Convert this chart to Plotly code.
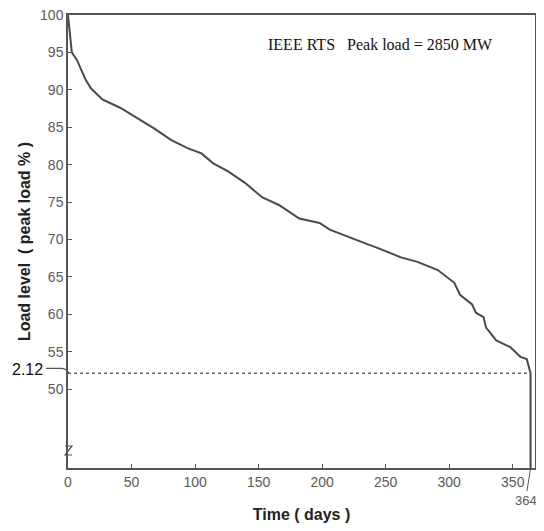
import plotly.graph_objects as go

# Load duration curve (day, % of peak load)
days = [0, 1, 3, 7, 14, 18, 27, 41, 54, 63, 68, 81, 94, 105, 114, 126, 139,
        153, 166, 182, 198, 206, 222, 235, 243, 262, 275, 291, 304, 308.5,
        318, 321, 327, 329, 337, 348, 356, 361, 364, 364]
load_pct = [100, 98, 95, 94, 91.3, 90.2, 88.7, 87.6, 86.3, 85.4, 84.8, 83.3,
            82.2, 81.5, 80.2, 79.1, 77.6, 75.6, 74.6, 72.8, 72.2, 71.3, 70.2,
            69.4, 68.9, 67.6, 67.0, 65.9, 64.2, 62.6, 61.3, 60.2, 59.6, 58.2,
            56.5, 55.6, 54.3, 54.0, 52.12, 0]

threshold = 52.12
threshold_days = [0, 364]
x_ticks = [0, 50, 100, 150, 200, 250, 300, 350]
y_ticks = [50, 55, 60, 65, 70, 75, 80, 85, 90, 95, 100]

AX = "#555555"
TICKFONT = dict(family="Arial, Liberation Sans, sans-serif", size=14, color="#5a5a5a")

fig = go.Figure()
fig.add_trace(go.Scatter(x=threshold_days, y=[threshold, threshold], mode="lines",
                         line=dict(color="#666666", width=1.5, dash="dot"),
                         hoverinfo="skip", showlegend=False))
fig.add_trace(go.Scatter(x=days, y=load_pct, mode="lines",
                         line=dict(color="#4a4a4a", width=2),
                         showlegend=False))

# the page body adds an 8px margin, so the figure is sized to fit inside it
fig.update_layout(
    width=528, height=515,
    margin=dict(l=60, r=1, t=7, b=55),
    plot_bgcolor="white", paper_bgcolor="white",
    xaxis=dict(range=[0, 367.5], tickvals=x_ticks, ticks="inside", ticklen=4,
               tickcolor=AX, showline=True, mirror=True, linecolor=AX, linewidth=1.5,
               showgrid=False, zeroline=False, tickfont=TICKFONT, automargin=False,
               ticklabeloverflow="allow",
               title=dict(text="<b>Time ( days )</b>", standoff=21,
                          font=dict(family="Arial, Liberation Sans, sans-serif", size=16, color="#222"))),
    yaxis=dict(range=[39.44, 100], tickvals=y_ticks, ticks="inside", ticklen=4,
               tickcolor=AX, showline=True, mirror=True, linecolor=AX, linewidth=1.5,
               showgrid=False, zeroline=False, tickfont=TICKFONT, automargin=False,
               ticklabeloverflow="allow",
               title=dict(text="<b>Load level  ( peak load % )</b>", standoff=5,
                          font=dict(family="Arial, Liberation Sans, sans-serif", size=16, color="#222"))),
    annotations=[
        dict(text="IEEE RTS\u00a0\u00a0 Peak load = 2850 MW", xref="paper", yref="paper",
             x=0.670, y=0.934, xanchor="center", yanchor="middle", showarrow=False,
             font=dict(family="Liberation Serif, Times New Roman, serif", size=16, color="#111")),
        dict(text="2.12", xref="paper", yref="y", x=-0.0867, y=52.6,
             xanchor="center", yanchor="middle", showarrow=False,
             font=dict(family="Arial, Liberation Sans, sans-serif", size=16, color="#111")),
        dict(text="364", xref="x", yref="paper", x=364, y=0, showarrow=True,
             arrowhead=0, arrowwidth=1, arrowcolor=AX, ax=-5, ay=32,
             font=dict(family="Arial, Liberation Sans, sans-serif", size=13, color="#5a5a5a")),
    ],
    shapes=[
        dict(type="path", xref="paper", yref="y",
             path="M -0.0471,52.75 L -0.0150,52.75 Q -0.0043,52.75 0.0021,52.12",
             line=dict(color=AX, width=1.2)),
        dict(type="path", xref="paper", yref="paper",
             path="M -0.0064,0.0486 L 0.0086,0.0486 L -0.0064,0.0287 L 0.0086,0.0287",
             line=dict(color=AX, width=1.2)),
    ],
)

fig.write_html("out.html")
